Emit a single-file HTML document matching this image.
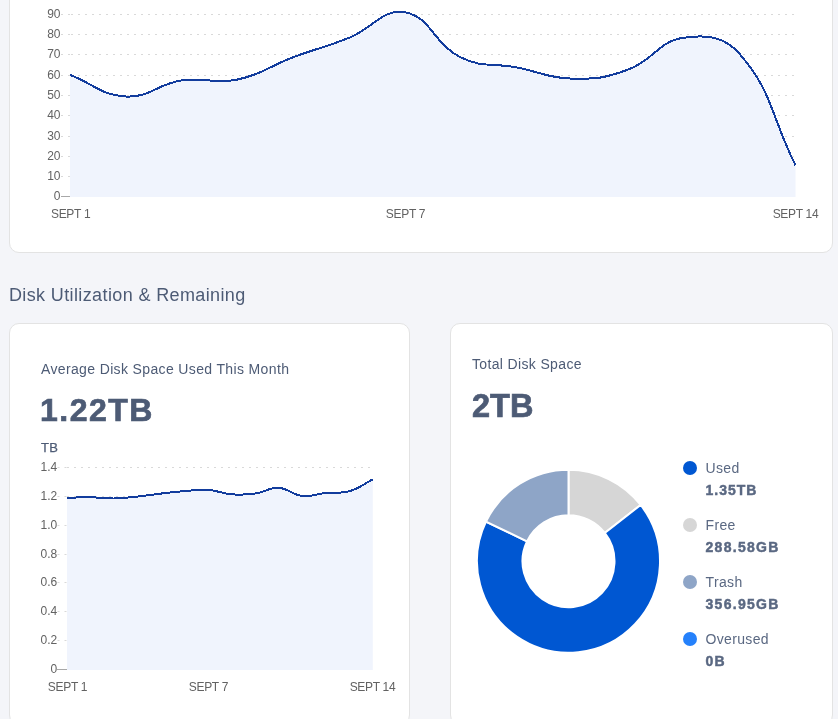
<!DOCTYPE html>
<html><head><meta charset="utf-8"><style>
html,body{margin:0;padding:0;}
body{width:838px;height:719px;overflow:hidden;background:#f4f5f9;position:relative;font-family:"Liberation Sans",sans-serif;}
.card{position:absolute;background:#fff;border:1px solid #e3e3e3;border-radius:10px;box-sizing:border-box;}
svg{position:absolute;left:0;top:0;will-change:transform;}
.ax{font-family:"Liberation Sans",sans-serif;font-size:12px;fill:#626262;}
.xl{letter-spacing:-0.3px;}
.t{position:absolute;white-space:nowrap;line-height:1;will-change:transform;}
.dot{position:absolute;left:683px;width:14px;height:14px;border-radius:50%;}
.lgl{position:absolute;left:705.5px;font-size:14px;line-height:14px;color:#5a6882;white-space:nowrap;letter-spacing:0.35px;}
.lgv{position:absolute;left:705.5px;font-size:14px;line-height:14px;font-weight:700;color:#5a6882;white-space:nowrap;letter-spacing:1.0px;-webkit-text-stroke:0.45px #5a6882;}
</style></head><body>
<div class="card" style="left:9px;top:-20px;width:824px;height:273px;"></div>
<div class="card" style="left:9px;top:323px;width:401px;height:402px;"></div>
<div class="card" style="left:450px;top:323px;width:383px;height:402px;"></div>
<div class="t" style="left:9px;top:286px;font-size:18px;color:#4d5b75;letter-spacing:0.375px;">Disk Utilization &amp; Remaining</div>
<div class="t" style="left:40.5px;top:362px;font-size:14px;color:#4d5b75;letter-spacing:0.36px;">Average Disk Space Used This Month</div>
<div class="t" style="left:39.5px;top:393.5px;font-size:32px;font-weight:700;color:#4d5b75;letter-spacing:1.5px;-webkit-text-stroke:0.7px #4d5b75;">1.22TB</div>
<div class="t" style="left:41px;top:440.5px;font-size:13px;font-weight:400;-webkit-text-stroke:0.25px #4d5b75;color:#4d5b75;letter-spacing:0.3px;">TB</div>
<div class="t" style="left:471.5px;top:357px;font-size:14px;color:#4d5b75;letter-spacing:0.35px;">Total Disk Space</div>
<div class="t" style="left:471.5px;top:390px;font-size:32.5px;font-weight:700;color:#4d5b75;letter-spacing:0px;-webkit-text-stroke:0.7px #4d5b75;">2TB</div>
<svg width="838" height="719" viewBox="0 0 838 719">
<line x1="61" y1="196.50" x2="70" y2="196.50" stroke="#a8a8a8" stroke-width="1"/><text x="60.5" y="199.70" text-anchor="end" class="ax">0</text><line x1="61" y1="176.50" x2="70" y2="176.50" stroke="#d9d9d9" stroke-width="1" stroke-dasharray="2 5"/><line x1="71" y1="176.50" x2="795" y2="176.50" stroke="#d9d9d9" stroke-width="1" stroke-dasharray="2 5"/><text x="60.5" y="179.70" text-anchor="end" class="ax">10</text><line x1="61" y1="156.50" x2="70" y2="156.50" stroke="#d9d9d9" stroke-width="1" stroke-dasharray="2 5"/><line x1="71" y1="156.50" x2="795" y2="156.50" stroke="#d9d9d9" stroke-width="1" stroke-dasharray="2 5"/><text x="60.5" y="159.70" text-anchor="end" class="ax">20</text><line x1="61" y1="136.50" x2="70" y2="136.50" stroke="#d9d9d9" stroke-width="1" stroke-dasharray="2 5"/><line x1="71" y1="136.50" x2="795" y2="136.50" stroke="#d9d9d9" stroke-width="1" stroke-dasharray="2 5"/><text x="60.5" y="139.70" text-anchor="end" class="ax">30</text><line x1="61" y1="115.50" x2="70" y2="115.50" stroke="#d9d9d9" stroke-width="1" stroke-dasharray="2 5"/><line x1="71" y1="115.50" x2="795" y2="115.50" stroke="#d9d9d9" stroke-width="1" stroke-dasharray="2 5"/><text x="60.5" y="118.70" text-anchor="end" class="ax">40</text><line x1="61" y1="95.50" x2="70" y2="95.50" stroke="#d9d9d9" stroke-width="1" stroke-dasharray="2 5"/><line x1="71" y1="95.50" x2="795" y2="95.50" stroke="#d9d9d9" stroke-width="1" stroke-dasharray="2 5"/><text x="60.5" y="98.70" text-anchor="end" class="ax">50</text><line x1="61" y1="75.50" x2="70" y2="75.50" stroke="#d9d9d9" stroke-width="1" stroke-dasharray="2 5"/><line x1="71" y1="75.50" x2="795" y2="75.50" stroke="#d9d9d9" stroke-width="1" stroke-dasharray="2 5"/><text x="60.5" y="78.70" text-anchor="end" class="ax">60</text><line x1="61" y1="54.50" x2="70" y2="54.50" stroke="#d9d9d9" stroke-width="1" stroke-dasharray="2 5"/><line x1="71" y1="54.50" x2="795" y2="54.50" stroke="#d9d9d9" stroke-width="1" stroke-dasharray="2 5"/><text x="60.5" y="57.70" text-anchor="end" class="ax">70</text><line x1="61" y1="34.50" x2="70" y2="34.50" stroke="#d9d9d9" stroke-width="1" stroke-dasharray="2 5"/><line x1="71" y1="34.50" x2="795" y2="34.50" stroke="#d9d9d9" stroke-width="1" stroke-dasharray="2 5"/><text x="60.5" y="37.70" text-anchor="end" class="ax">80</text><line x1="61" y1="14.50" x2="70" y2="14.50" stroke="#d9d9d9" stroke-width="1" stroke-dasharray="2 5"/><line x1="71" y1="14.50" x2="795" y2="14.50" stroke="#d9d9d9" stroke-width="1" stroke-dasharray="2 5"/><text x="60.5" y="17.70" text-anchor="end" class="ax">90</text><path d="M70.00,74.83 C94.56,84.36 100.88,95.24 125.81,96.49 C149.99,97.70 156.57,84.23 181.62,80.43 C205.68,76.78 213.78,84.48 237.42,79.56 C262.89,74.26 268.46,66.46 293.23,57.20 C317.57,48.10 324.95,47.53 349.04,37.84 C374.06,27.78 382.20,8.36 404.85,12.32 C431.31,16.95 433.23,43.82 460.65,57.36 C482.34,68.06 491.95,62.74 516.46,67.41 C541.07,72.10 547.63,78.17 572.27,78.65 C596.74,79.13 605.10,78.03 628.08,69.60 C654.21,60.01 658.10,41.29 683.88,37.70 C707.21,34.45 724.05,36.17 739.69,54.05 C773.16,92.31 770.94,116.34 795.50,165.29 L795.50,196.90 L70.00,196.90 Z" fill="#f0f4fd"/><path d="M70.00,74.83 C94.56,84.36 100.88,95.24 125.81,96.49 C149.99,97.70 156.57,84.23 181.62,80.43 C205.68,76.78 213.78,84.48 237.42,79.56 C262.89,74.26 268.46,66.46 293.23,57.20 C317.57,48.10 324.95,47.53 349.04,37.84 C374.06,27.78 382.20,8.36 404.85,12.32 C431.31,16.95 433.23,43.82 460.65,57.36 C482.34,68.06 491.95,62.74 516.46,67.41 C541.07,72.10 547.63,78.17 572.27,78.65 C596.74,79.13 605.10,78.03 628.08,69.60 C654.21,60.01 658.10,41.29 683.88,37.70 C707.21,34.45 724.05,36.17 739.69,54.05 C773.16,92.31 770.94,116.34 795.50,165.29" fill="none" stroke="#123c9d" stroke-width="2" shape-rendering="crispEdges"/><text x="70.6" y="218" text-anchor="middle" class="ax xl">SEPT 1</text><text x="405.5" y="218" text-anchor="middle" class="ax xl">SEPT 7</text><text x="795.5" y="218" text-anchor="middle" class="ax xl">SEPT 14</text>
<line x1="57" y1="669.50" x2="67" y2="669.50" stroke="#a8a8a8" stroke-width="1"/><text x="57.2" y="672.70" text-anchor="end" class="ax">0</text><line x1="57.5" y1="640.50" x2="67" y2="640.50" stroke="#d9d9d9" stroke-width="1" stroke-dasharray="2 5"/><line x1="67" y1="640.50" x2="372" y2="640.50" stroke="#d9d9d9" stroke-width="1" stroke-dasharray="2 5"/><text x="57.2" y="643.70" text-anchor="end" class="ax">0.2</text><line x1="57.5" y1="611.50" x2="67" y2="611.50" stroke="#d9d9d9" stroke-width="1" stroke-dasharray="2 5"/><line x1="67" y1="611.50" x2="372" y2="611.50" stroke="#d9d9d9" stroke-width="1" stroke-dasharray="2 5"/><text x="57.2" y="614.70" text-anchor="end" class="ax">0.4</text><line x1="57.5" y1="582.50" x2="67" y2="582.50" stroke="#d9d9d9" stroke-width="1" stroke-dasharray="2 5"/><line x1="67" y1="582.50" x2="372" y2="582.50" stroke="#d9d9d9" stroke-width="1" stroke-dasharray="2 5"/><text x="57.2" y="585.70" text-anchor="end" class="ax">0.6</text><line x1="57.5" y1="554.50" x2="67" y2="554.50" stroke="#d9d9d9" stroke-width="1" stroke-dasharray="2 5"/><line x1="67" y1="554.50" x2="372" y2="554.50" stroke="#d9d9d9" stroke-width="1" stroke-dasharray="2 5"/><text x="57.2" y="557.70" text-anchor="end" class="ax">0.8</text><line x1="57.5" y1="525.50" x2="67" y2="525.50" stroke="#d9d9d9" stroke-width="1" stroke-dasharray="2 5"/><line x1="67" y1="525.50" x2="372" y2="525.50" stroke="#d9d9d9" stroke-width="1" stroke-dasharray="2 5"/><text x="57.2" y="528.70" text-anchor="end" class="ax">1.0</text><line x1="57.5" y1="496.50" x2="67" y2="496.50" stroke="#d9d9d9" stroke-width="1" stroke-dasharray="2 5"/><line x1="67" y1="496.50" x2="372" y2="496.50" stroke="#d9d9d9" stroke-width="1" stroke-dasharray="2 5"/><text x="57.2" y="499.70" text-anchor="end" class="ax">1.2</text><line x1="57.5" y1="467.50" x2="67" y2="467.50" stroke="#d9d9d9" stroke-width="1" stroke-dasharray="2 5"/><line x1="67" y1="467.50" x2="372" y2="467.50" stroke="#d9d9d9" stroke-width="1" stroke-dasharray="2 5"/><text x="57.2" y="470.70" text-anchor="end" class="ax">1.4</text><path d="M67.00,497.79 C76.41,497.58 81.12,497.13 90.52,497.27 C99.94,497.41 104.65,498.65 114.05,498.50 C123.47,498.35 128.18,497.52 137.57,496.54 C147.00,495.55 151.67,494.66 161.09,493.57 C170.49,492.48 175.19,491.83 184.62,491.08 C194.00,490.34 198.81,489.20 208.14,489.85 C217.63,490.51 222.17,493.59 231.66,494.34 C240.99,495.07 245.91,494.83 255.18,493.55 C264.73,492.23 269.43,487.37 278.71,487.85 C288.25,488.34 292.59,494.92 302.23,495.97 C311.41,496.98 316.32,493.93 325.75,493.00 C335.14,492.07 340.40,493.89 349.28,491.31 C359.21,488.43 363.39,484.14 372.80,479.36 L372.80,669.90 L67.00,669.90 Z" fill="#f0f4fd"/><path d="M67.00,497.79 C76.41,497.58 81.12,497.13 90.52,497.27 C99.94,497.41 104.65,498.65 114.05,498.50 C123.47,498.35 128.18,497.52 137.57,496.54 C147.00,495.55 151.67,494.66 161.09,493.57 C170.49,492.48 175.19,491.83 184.62,491.08 C194.00,490.34 198.81,489.20 208.14,489.85 C217.63,490.51 222.17,493.59 231.66,494.34 C240.99,495.07 245.91,494.83 255.18,493.55 C264.73,492.23 269.43,487.37 278.71,487.85 C288.25,488.34 292.59,494.92 302.23,495.97 C311.41,496.98 316.32,493.93 325.75,493.00 C335.14,492.07 340.40,493.89 349.28,491.31 C359.21,488.43 363.39,484.14 372.80,479.36" fill="none" stroke="#123c9d" stroke-width="2" shape-rendering="crispEdges"/><text x="67.5" y="691" text-anchor="middle" class="ax xl">SEPT 1</text><text x="208.4" y="691" text-anchor="middle" class="ax xl">SEPT 7</text><text x="372.5" y="691" text-anchor="middle" class="ax xl">SEPT 14</text>
<path d="M568.50,469.70 A91.5,91.5 0 0 1 640.66,504.94 L604.78,532.92 A46.0,46.0 0 0 0 568.50,515.20 Z" fill="#d6d6d6" stroke="#fff" stroke-width="2" stroke-linejoin="miter"/><path d="M640.66,504.94 A91.5,91.5 0 1 1 485.99,521.66 L527.02,541.32 A46.0,46.0 0 1 0 604.78,532.92 Z" fill="#0057d2" stroke="#fff" stroke-width="2" stroke-linejoin="miter"/><path d="M485.99,521.66 A91.5,91.5 0 0 1 568.50,469.70 L568.50,515.20 A46.0,46.0 0 0 0 527.02,541.32 Z" fill="#8ea5c7" stroke="#fff" stroke-width="2" stroke-linejoin="miter"/>
</svg>
<div class="dot" style="top:460.80px;background:#0057d2"></div><div class="lgl" style="top:461.00px">Used</div><div class="lgv" style="top:483.10px;letter-spacing:1.0px">1.35TB</div><div class="dot" style="top:517.85px;background:#d6d6d6"></div><div class="lgl" style="top:518.05px">Free</div><div class="lgv" style="top:540.15px;letter-spacing:1.3px">288.58GB</div><div class="dot" style="top:574.90px;background:#8ea5c7"></div><div class="lgl" style="top:575.10px">Trash</div><div class="lgv" style="top:597.20px;letter-spacing:1.3px">356.95GB</div><div class="dot" style="top:631.95px;background:#2581fb"></div><div class="lgl" style="top:632.15px">Overused</div><div class="lgv" style="top:654.25px;letter-spacing:1.3px">0B</div>
</body></html>
